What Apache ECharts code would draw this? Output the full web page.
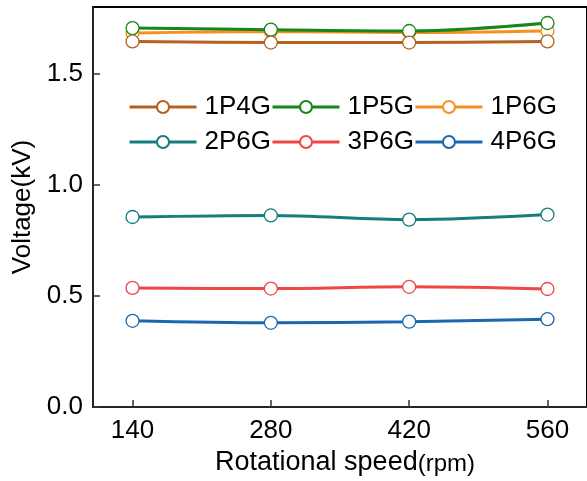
<!DOCTYPE html>
<html>
<head>
<meta charset="utf-8">
<script src="https://cdn.jsdelivr.net/npm/echarts@6/dist/echarts.min.js"></script>
<style>
  html, body { margin: 0; padding: 0; background: #fff; }
  #chart { width: 587px; height: 481px; }
</style>
</head>
<body>
<div id="chart"></div>
<script>
// Rotational speed (rpm)
const speeds = [140, 280, 420, 560];
const xTicks = [140, 280, 420, 560];
const yTicks = [0, 0.5, 1.0, 1.5];

// Output voltage (kV) for each pole / generator configuration
const names = ['1P4G', '1P5G', '1P6G', '2P6G', '3P6G', '4P6G'];
const v1P4G = [1.645, 1.640, 1.640, 1.645];
const v1P5G = [1.705, 1.698, 1.692, 1.728];
const v1P6G = [1.683, 1.690, 1.685, 1.692];
const v2P6G = [0.855, 0.862, 0.843, 0.866];
const v3P6G = [0.536, 0.533, 0.541, 0.531];
const v4P6G = [0.388, 0.379, 0.384, 0.395];
const colors = ['#B5601E', '#17861B', '#F6901E', '#137E7B', '#EF4646', '#1C68AC'];

const values = [v1P4G, v1P5G, v1P6G, v2P6G, v3P6G, v4P6G];
const font = '"Liberation Sans", Arial, sans-serif';

const series = names.map((n, i) => ({
  name: n,
  type: 'line',
  smooth: 0.35,
  data: speeds.map((s, k) => [s, values[i][k]]),
  symbol: 'circle',
  symbolSize: 13,
  color: colors[i],
  lineStyle: { color: colors[i], width: 3 },
  itemStyle: { color: '#fff', borderColor: colors[i], borderWidth: 1.3 },
  z: 10 - i
}));

const legendBase = {
  left: 123,
  itemWidth: 67,
  itemHeight: 15,
  itemGap: 0,
  selectedMode: false,
  lineStyle: { width: 3 },
  textStyle: { fontFamily: font, fontSize: 26, color: '#000', padding: [0, 4, 0, 3] }
};

const chart = echarts.init(document.getElementById('chart'), null, { renderer: 'canvas' });
chart.setOption({
  animation: false,
  backgroundColor: '#fff',
  grid: {
    left: 93, top: 7, right: -7, bottom: 73,
    show: true, borderColor: '#000', borderWidth: 2
  },
  legend: [
    Object.assign({}, legendBase, { top: 89, data: names.slice(0, 3) }),
    Object.assign({}, legendBase, { top: 124, data: names.slice(3) })
  ],
  xAxis: {
    type: 'value',
    min: 100, max: 600,
    name: '{a|Rotational speed}{b|(rpm)}',
    nameLocation: 'middle',
    nameGap: 42,
    nameTextStyle: {
      padding: [0, 0, 0, 10],
      rich: {
        a: { fontFamily: font, fontSize: 27, color: '#000' },
        b: { fontFamily: font, fontSize: 24, color: '#000', padding: [3, 0, 0, 0] }
      }
    },
    axisLine: { lineStyle: { color: '#333', width: 1.5 } },
    axisTick: { inside: true, length: 7, customValues: xTicks, lineStyle: { color: '#333', width: 1.5 } },
    axisLabel: { customValues: xTicks, fontFamily: font, fontSize: 26, color: '#000', margin: 11 },
    splitLine: { show: false }
  },
  yAxis: {
    type: 'value',
    min: 0, max: 1.8,
    name: 'Voltage(kV)',
    nameLocation: 'middle',
    nameGap: 55,
    nameTextStyle: { fontFamily: font, fontSize: 26, color: '#000' },
    axisLine: { lineStyle: { color: '#333', width: 1.5 } },
    axisTick: { inside: true, length: 7, customValues: yTicks, lineStyle: { color: '#333', width: 1.5 } },
    axisLabel: {
      customValues: yTicks, fontFamily: font, fontSize: 26, color: '#000', margin: 10,
      formatter: v => v.toFixed(1)
    },
    splitLine: { show: false }
  },
  series: series
});
</script>
</body>
</html>
